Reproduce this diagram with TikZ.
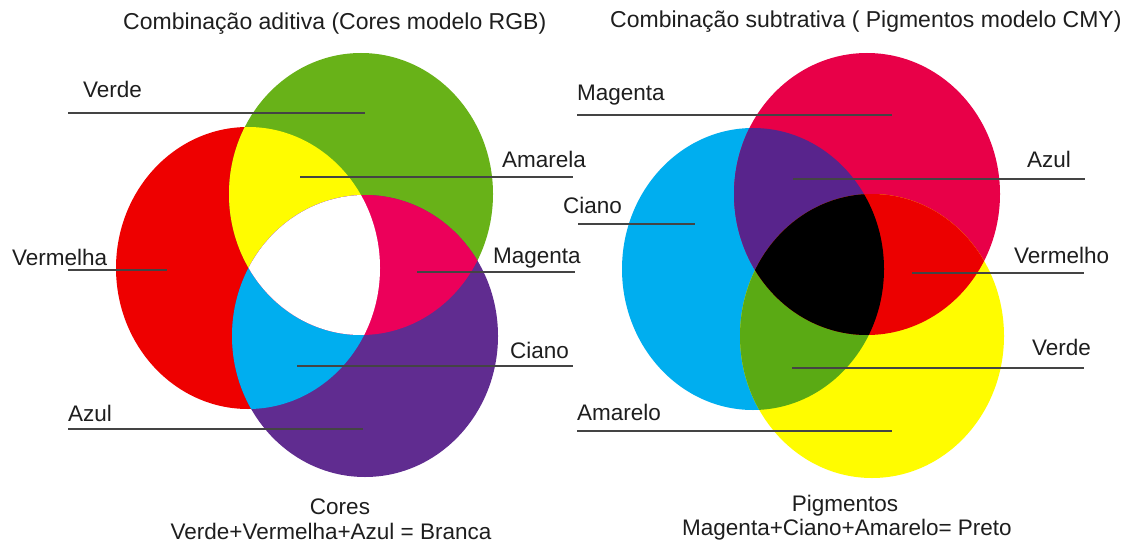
\documentclass[tikz,border=0pt]{standalone}
\usepackage{fontspec}
\setmainfont{Liberation Sans}
\definecolor{lgreen}{RGB}{104,178,24}
\definecolor{lred}{RGB}{238,0,0}
\definecolor{lpurple}{RGB}{96,44,144}
\definecolor{lyellow}{RGB}{255,252,0}
\definecolor{lcyan}{RGB}{0,174,239}
\definecolor{lmag}{RGB}{236,0,90}
\definecolor{rcyan}{RGB}{0,174,239}
\definecolor{rmag}{RGB}{232,0,72}
\definecolor{ryellow}{RGB}{255,252,0}
\definecolor{rpurple}{RGB}{88,36,140}
\definecolor{rred}{RGB}{236,0,0}
\definecolor{rgreen}{RGB}{90,170,20}
\definecolor{leadgray}{RGB}{68,68,68}
\definecolor{txt}{RGB}{30,30,30}
\begin{document}
\begin{tikzpicture}[x=1pt,y=-1pt,
  leader/.style={draw=leadgray,line width=2.6pt},
  lab/.style={anchor=base west,inner sep=0pt,text=txt,font=\fontsize{22.5}{26}\selectfont},
  ttl/.style={anchor=base west,inner sep=0pt,text=txt,font=\fontsize{23}{27}\selectfont},
  captxt/.style={anchor=base,inner sep=0pt,text=txt,font=\fontsize{22.5}{26}\selectfont}]
\useasboundingbox[fill=white] (0,0) rectangle (1127,543);
% circle paths
\def\Gc{(361,194) ellipse [x radius=132pt, y radius=141pt]}
\def\Rc{(248,268) ellipse [x radius=132pt, y radius=141pt]}
\def\Bc{(365,336) ellipse [x radius=133pt, y radius=141pt]}
\def\Mc{(867,194) ellipse [x radius=133pt, y radius=141pt]}
\def\Cc{(753,269) ellipse [x radius=131pt, y radius=141pt]}
\def\Yc{(872,336) ellipse [x radius=132pt, y radius=142pt]}
% additive (left)
\fill[lred] \Rc;
\fill[lgreen] \Gc;
\fill[lpurple] \Bc;
\begin{scope}\clip \Rc; \fill[lyellow] \Gc; \fill[lcyan] \Bc; \end{scope}
\begin{scope}\clip \Gc; \fill[lmag] \Bc; \end{scope}
\begin{scope}\clip \Rc; \clip \Gc; \fill[white] \Bc; \end{scope}
% subtractive (right)
\fill[rcyan] \Cc;
\fill[rmag] \Mc;
\fill[ryellow] \Yc;
\begin{scope}\clip \Cc; \fill[rpurple] \Mc; \fill[rgreen] \Yc; \end{scope}
\begin{scope}\clip \Mc; \fill[rred] \Yc; \end{scope}
\begin{scope}\clip \Cc; \clip \Mc; \fill[black] \Yc; \end{scope}
% titles
\node[ttl] (t1) at (123,30) {Combinação aditiva (Cores modelo RGB)};
\node[ttl] (t2) at (610,28) {Combinação subtrativa ( Pigmentos modelo CMY)};
% left leader lines
\coordinate (aV1) at (68,113);  \coordinate (aV2) at (365,113);
\coordinate (aA1) at (300,177); \coordinate (aA2) at (573,177);
\coordinate (aR1) at (68,270);  \coordinate (aR2) at (167,270);
\coordinate (aM1) at (417,272); \coordinate (aM2) at (575,272);
\coordinate (aC1) at (297,366); \coordinate (aC2) at (573,366);
\coordinate (aB1) at (68,429);  \coordinate (aB2) at (363,429);
\draw[leader] (aV1) -- (aV2);
\draw[leader] (aA1) -- (aA2);
\draw[leader] (aR1) -- (aR2);
\draw[leader] (aM1) -- (aM2);
\draw[leader] (aC1) -- (aC2);
\draw[leader] (aB1) -- (aB2);
% right leader lines
\coordinate (sM1) at (577,115); \coordinate (sM2) at (892,115);
\coordinate (sC1) at (578,224); \coordinate (sC2) at (695,224);
\coordinate (sY1) at (577,431); \coordinate (sY2) at (892,431);
\coordinate (sB1) at (793,179); \coordinate (sB2) at (1085,179);
\coordinate (sR1) at (912,273); \coordinate (sR2) at (1084,273);
\coordinate (sG1) at (792,368); \coordinate (sG2) at (1084,368);
\draw[leader] (sM1) -- (sM2);
\draw[leader] (sC1) -- (sC2);
\draw[leader] (sY1) -- (sY2);
\draw[leader] (sB1) -- (sB2);
\draw[leader] (sR1) -- (sR2);
\draw[leader] (sG1) -- (sG2);
% left labels
\node[lab] (lV) at (83,97) {Verde};
\node[lab] (lA) at (502,167) {Amarela};
\node[lab] (lR) at (12,265) {Vermelha};
\node[lab] (lM) at (493,263) {Magenta};
\node[lab] (lC) at (510,358) {Ciano};
\node[lab] (lB) at (68,421) {Azul};
% right labels
\node[lab] (rM) at (577,100) {Magenta};
\node[lab] (rC) at (563,213) {Ciano};
\node[lab] (rY) at (577,420) {Amarelo};
\node[lab] (rB) at (1027,167) {Azul};
\node[lab] (rR) at (1014,263) {Vermelho};
\node[lab] (rG) at (1032,355) {Verde};
% captions
\node[captxt] (c1) at (340,514) {Cores};
\node[captxt] (c2) at (331,539) {Verde+Vermelha+Azul = Branca};
\node[captxt] (c3) at (845,511) {Pigmentos};
\node[captxt] (c4) at (847,535) {Magenta+Ciano+Amarelo= Preto};
\end{tikzpicture}
\end{document}
